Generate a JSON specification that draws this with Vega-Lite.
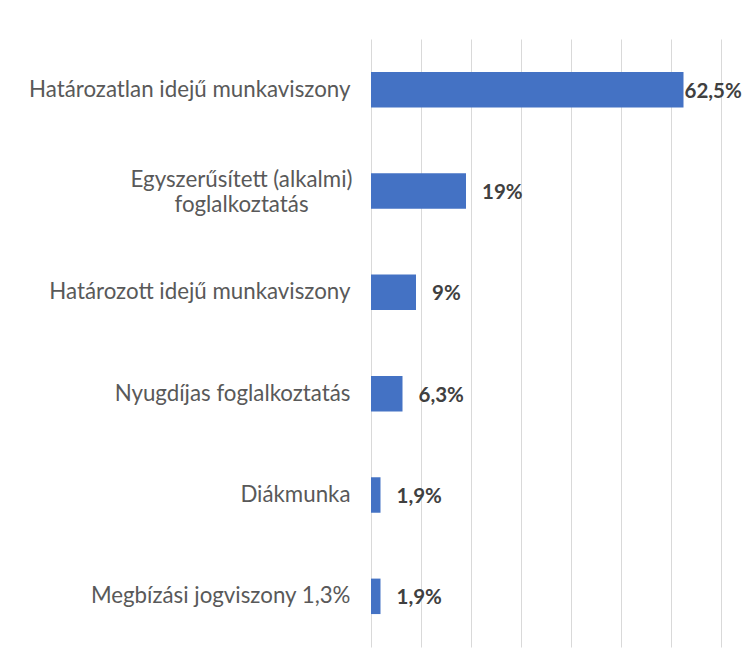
{
  "$schema": "https://vega.github.io/schema/vega-lite/v6.json",
  "width": 350,
  "height": 608,
  "autosize": {"type": "none"},
  "padding": {"left": 371, "top": 39, "right": 23, "bottom": 24},
  "background": "#ffffff",
  "config": {"view": {"stroke": null}},
  "data": {
    "values": [
      {"cat": "Határozatlan idejű munkaviszony", "v": 62.5, "label": "62,5%"},
      {"cat": "Egyszerűsített (alkalmi) foglalkoztatás", "v": 19, "label": "19%"},
      {"cat": "Határozott idejű munkaviszony", "v": 9, "label": "9%"},
      {"cat": "Nyugdíjas foglalkoztatás", "v": 6.3, "label": "6,3%"},
      {"cat": "Diákmunka", "v": 1.9, "label": "1,9%"},
      {"cat": "Megbízási jogviszony 1,3%", "v": 1.9, "label": "1,9%"}
    ]
  },
  "encoding": {
    "y": {
      "field": "cat",
      "type": "nominal",
      "sort": null,
      "scale": {"paddingInner": 0.65, "paddingOuter": 0.325},
      "axis": {
        "title": null,
        "domain": false,
        "ticks": false,
        "tickSize": 0,
        "labelFont": "Lato",
        "labelFontSize": 22.3,
        "labelColor": "#595959",
        "labelLimit": 400,
        "labelLineHeight": 25,
        "labelBaseline": "middle",
        "labelExpr": "datum.value == 'Egyszerűsített (alkalmi) foglalkoztatás' ? ['Egyszerűsített (alkalmi)', 'foglalkoztatás'] : datum.label",
        "labelAlign": {"condition": {"test": "datum.value == 'Egyszerűsített (alkalmi) foglalkoztatás'", "value": "center"}, "value": "right"},
        "labelPadding": {"condition": {"test": "datum.value == 'Egyszerűsített (alkalmi) foglalkoztatás'", "value": 130}, "value": 21},
        "labelOffset": {"condition": {"test": "datum.value == 'Egyszerűsített (alkalmi) foglalkoztatás'", "value": -11}, "value": 0}
      }
    },
    "x": {
      "field": "v",
      "type": "quantitative",
      "scale": {"domain": [0, 70], "nice": false},
      "axis": {
        "title": null,
        "labels": false,
        "ticks": false,
        "domain": false,
        "grid": true,
        "values": [0, 10, 20, 30, 40, 50, 60, 70],
        "gridColor": "#d9d9d9",
        "gridWidth": 1
      }
    }
  },
  "layer": [
    {"mark": {"type": "bar", "color": "#4472C4"}},
    {
      "transform": [{"filter": "datum.v < 50"}],
      "mark": {"type": "text", "align": "left", "baseline": "middle", "dx": 16, "dy": 2, "font": "Lato", "fontSize": 20.5, "fontWeight": "bold", "color": "#404040"},
      "encoding": {"text": {"field": "label"}}
    },
    {
      "transform": [{"filter": "datum.v >= 50"}],
      "mark": {"type": "text", "align": "left", "baseline": "middle", "dx": 1, "dy": 2, "font": "Lato", "fontSize": 20.5, "fontWeight": "bold", "color": "#404040"},
      "encoding": {"text": {"field": "label"}}
    }
  ]
}
